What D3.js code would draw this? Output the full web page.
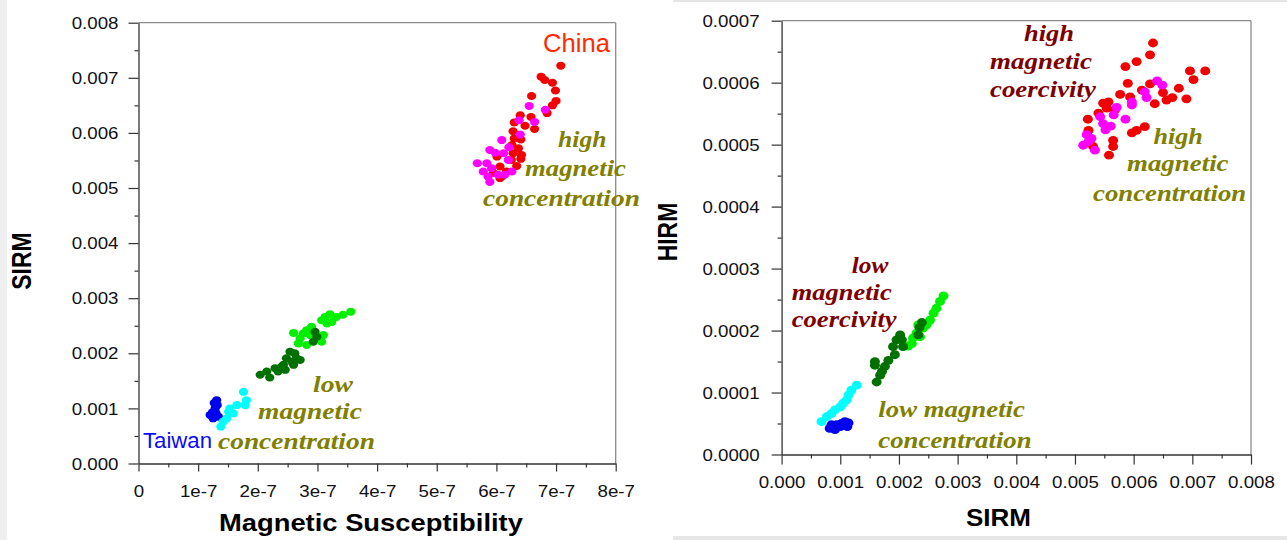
<!DOCTYPE html>
<html><head><meta charset="utf-8">
<script src="https://cdn.jsdelivr.net/npm/d3@7"></script>
<style>html,body{margin:0;padding:0;background:#fff;}svg{display:block;}</style>
</head><body>
<svg id="chart" width="1287" height="540"></svg>
<script>
// ---------- Left panel: Magnetic Susceptibility vs SIRM ----------
const susTicks = [0, 1e-7, 2e-7, 3e-7, 4e-7, 5e-7, 6e-7, 7e-7, 8e-7];
const susTickLabels = ["0", "1e-7", "2e-7", "3e-7", "4e-7", "5e-7", "6e-7", "7e-7", "8e-7"];
const sirmTicksA = [0, 0.001, 0.002, 0.003, 0.004, 0.005, 0.006, 0.007, 0.008];
const sirmTickLabelsA = ["0.000", "0.001", "0.002", "0.003", "0.004", "0.005", "0.006", "0.007", "0.008"];

const susRed = [7.08e-7,6.75e-7,6.81e-7,6.94e-7,6.99e-7,7.00e-7,6.94e-7,6.59e-7,6.85e-7,6.40e-7,6.58e-7,6.48e-7,6.64e-7,6.28e-7,6.41e-7,6.30e-7,6.26e-7,6.37e-7,6.42e-7,6.41e-7,6.28e-7,6.25e-7,6.34e-7,6.01e-7,6.06e-7,6.17e-7,6.09e-7,5.95e-7,6.06e-7,6.30e-7];
const sirmRedA = [0.00722,0.00702,0.00696,0.00691,0.00677,0.00658,0.00650,0.00667,0.00636,0.00632,0.00629,0.00613,0.00607,0.00603,0.00588,0.00590,0.00578,0.00572,0.00560,0.00553,0.00563,0.00551,0.00540,0.00557,0.00539,0.00530,0.00521,0.00527,0.00518,0.00619];
const susMagenta = [6.55e-7,6.82e-7,6.38e-7,6.64e-7,6.40e-7,6.09e-7,6.21e-7,5.89e-7,5.98e-7,6.12e-7,5.68e-7,5.84e-7,5.92e-7,5.78e-7,5.86e-7,6.03e-7,5.89e-7,6.14e-7,6.26e-7,6.20e-7];
const sirmMagentaA = [0.00649,0.00642,0.00623,0.00620,0.00597,0.00587,0.00574,0.00569,0.00564,0.00563,0.00545,0.00545,0.00536,0.00530,0.00521,0.00524,0.00511,0.00524,0.00530,0.00551];
const susLightGreen = [3.56e-7,3.43e-7,3.32e-7,3.21e-7,3.13e-7,3.07e-7,3.16e-7,3.24e-7,2.90e-7,2.82e-7,2.76e-7,2.60e-7,2.71e-7,2.88e-7,3.10e-7,3.07e-7,2.82e-7,2.68e-7,2.90e-7];
const sirmLightGreenA = [0.002755,0.00270,0.00266,0.00271,0.00266,0.00260,0.00254,0.00257,0.00248,0.00242,0.00236,0.00237,0.00227,0.00233,0.00233,0.00221,0.00215,0.00218,0.00245];
const susDarkGreen = [2.96e-7,2.93e-7,2.99e-7,2.04e-7,2.15e-7,2.20e-7,2.29e-7,2.34e-7,2.43e-7,2.48e-7,2.54e-7,2.62e-7,2.57e-7,2.65e-7,2.71e-7,2.60e-7,2.46e-7,2.40e-7];
const sirmDarkGreenA = [0.00239,0.00221,0.00230,0.00161,0.00167,0.00156,0.00173,0.00167,0.00179,0.00191,0.00203,0.00200,0.00185,0.00191,0.00188,0.00179,0.00170,0.00176];
const susCyan = [1.76e-7,1.81e-7,1.79e-7,1.65e-7,1.53e-7,1.59e-7,1.48e-7,1.42e-7,1.38e-7,1.51e-7];
const sirmCyanA = [0.00130,0.00115,0.00106,0.00106,0.00100,0.00091,0.00082,0.00076,0.00067,0.00094];
const susBlue = [1.31e-7,1.32e-7,1.28e-7,1.20e-7,1.25e-7,1.34e-7,1.30e-7,1.27e-7,1.24e-7,1.29e-7];
const sirmBlueA = [0.00115,0.00106,0.00097,0.00088,0.00082,0.00085,0.00091,0.00110,0.00093,0.00102];

// ---------- Right panel: SIRM vs HIRM ----------
const sirmTicksB = [0, 0.001, 0.002, 0.003, 0.004, 0.005, 0.006, 0.007, 0.008];
const sirmTickLabelsB = ["0.000", "0.001", "0.002", "0.003", "0.004", "0.005", "0.006", "0.007", "0.008"];
const hirmTicks = [0, 0.0001, 0.0002, 0.0003, 0.0004, 0.0005, 0.0006, 0.0007];
const hirmTickLabels = ["0.0000", "0.0001", "0.0002", "0.0003", "0.0004", "0.0005", "0.0006", "0.0007"];

const sirmRedB = [0.00633,0.00628,0.00605,0.00586,0.00696,0.00722,0.00702,0.00590,0.00628,0.00614,0.00677,0.00650,0.00666,0.00656,0.00690,0.00577,0.00594,0.00636,0.00557,0.00548,0.00554,0.00540,0.00522,0.00523,0.00619,0.00605,0.00597,0.00565,0.00565,0.00558,0.00531,0.00568];
const hirmRed = [0.000664,0.000645,0.000634,0.000626,0.000619,0.000619,0.000605,0.000599,0.000598,0.000588,0.000591,0.000584,0.000576,0.000572,0.000574,0.000581,0.000577,0.000566,0.000569,0.000567,0.000559,0.000551,0.000541,0.000523,0.000529,0.000523,0.000519,0.000507,0.000497,0.000483,0.000497,0.000556];
const sirmMagentaB = [0.00640,0.00649,0.00619,0.00622,0.00597,0.00597,0.00571,0.00566,0.00586,0.00543,0.00548,0.00561,0.00552,0.00520,0.00528,0.00514,0.00534,0.00523];
const hirmMagenta = [0.000603,0.000596,0.000585,0.000576,0.000569,0.000564,0.000560,0.000548,0.000541,0.000545,0.000534,0.000530,0.000524,0.000516,0.000510,0.000499,0.000491,0.000505];
const sirmLightGreenB = [0.00276,0.00270,0.00264,0.00259,0.00253,0.00247,0.00241,0.00233,0.00230,0.00224,0.00222,0.00216,0.00236];
const hirmLightGreen = [0.000256,0.000247,0.000236,0.000228,0.000217,0.000209,0.000204,0.000209,0.000196,0.000188,0.000179,0.000175,0.000190];
const sirmDarkGreenB = [0.00239,0.00235,0.00233,0.00202,0.00205,0.00196,0.00207,0.00190,0.00193,0.00182,0.00176,0.00171,0.00162,0.00159,0.00159,0.00168];
const hirmDarkGreen = [0.000213,0.000205,0.000193,0.000193,0.000185,0.000185,0.000174,0.000174,0.000161,0.000152,0.000142,0.000134,0.000117,0.000150,0.000144,0.000128];
const sirmCyanB = [0.00128,0.00119,0.00114,0.00111,0.00105,0.00100,0.00091,0.00085,0.00077,0.00068];
const hirmCyan = [0.000112,0.000104,0.000096,0.000088,0.000083,0.000077,0.000072,0.000066,0.000061,0.000053];
const sirmBlueB = [0.00082,0.00091,0.00100,0.00108,0.00114,0.00112,0.00102,0.00085,0.00094];
const hirmBlue = [0.000042,0.000040,0.000045,0.000053,0.000051,0.000045,0.000050,0.000048,0.000048];

// ---------- drawing ----------
const svg = d3.select("#chart");
const SANS = "'Liberation Sans', Arial, sans-serif";
const SERIF = "'Liberation Serif', 'Times New Roman', serif";

// page background strips
svg.append("rect").attr("x",0).attr("y",0).attr("width",7).attr("height",540).attr("fill","#efefef");
svg.append("rect").attr("x",673).attr("y",0).attr("width",614).attr("height",2).attr("fill","#e6e6e6");
svg.append("rect").attr("x",673).attr("y",536).attr("width",614).attr("height",4).attr("fill","#e6e6e6");

function label(g, str, x, y, o) {
  const t = g.append("text").text(str)
    .attr("font-family", o.family || SANS)
    .attr("font-size", o.size)
    .attr("font-weight", o.weight || "normal")
    .attr("font-style", o.style || "normal")
    .attr("fill", o.color || "#000")
    .attr("text-anchor", o.anchor || "start");
  const len = t.node().getComputedTextLength();
  const s = o.width ? o.width / len : 1;
  if (o.rotate) t.attr("transform", `translate(${x},${y}) rotate(-90) scale(1,${o.sy || 1.2})`);
  else t.attr("transform", `translate(${x},${y}) scale(${s},1)`);
  return t;
}

function panel(cfg) {
  const g = svg.append("g");
  const x = d3.scaleLinear().domain(cfg.xDomain).range(cfg.xRange);
  const y = d3.scaleLinear().domain(cfg.yDomain).range(cfg.yRange);

  // frame (top/right)
  g.append("line").attr("x1", x.range()[0]).attr("x2", x.range()[1]).attr("y1", y.range()[1]).attr("y2", y.range()[1]).attr("stroke", "#8a8a8a").attr("stroke-width", 1.3);
  g.append("line").attr("x1", x.range()[1]).attr("x2", x.range()[1]).attr("y1", y.range()[0]).attr("y2", y.range()[1]).attr("stroke", "#8a8a8a").attr("stroke-width", 1.3);

  // minor ticks
  const xMinor = d3.range(0, cfg.xTicks.length - 1).map(i => (cfg.xTicks[i] + cfg.xTicks[i + 1]) / 2);
  const yMinor = d3.range(0, cfg.yTicks.length - 1).map(i => (cfg.yTicks[i] + cfg.yTicks[i + 1]) / 2);
  const gxm = g.append("g").attr("transform", `translate(0,${y.range()[0]})`).call(d3.axisBottom(x).tickValues(xMinor).tickSize(4).tickFormat(""));
  const gym = g.append("g").attr("transform", `translate(${x.range()[0]},0)`).call(d3.axisLeft(y).tickValues(yMinor).tickSize(4).tickFormat(""));
  [gxm, gym].forEach(a => { a.select(".domain").remove(); a.selectAll("line").attr("stroke", "#333").attr("stroke-width", 1.2); });

  // major axes
  const gx = g.append("g").attr("transform", `translate(0,${y.range()[0]})`)
    .call(d3.axisBottom(x).tickValues(cfg.xTicks).tickSize(cfg.xTickSize).tickSizeOuter(0).tickFormat((d, i) => cfg.xLabels[i]));
  const gy = g.append("g").attr("transform", `translate(${x.range()[0]},0)`)
    .call(d3.axisLeft(y).tickValues(cfg.yTicks).tickSize(10).tickSizeOuter(0).tickFormat((d, i) => cfg.yLabels[i]));
  [gx, gy].forEach(a => {
    a.select(".domain").attr("stroke", "#333").attr("stroke-width", 1.3);
    a.selectAll(".tick line").attr("stroke", "#333").attr("stroke-width", 1.2);
    a.selectAll("text").attr("font-family", SANS).attr("font-size", 15.6).attr("fill", "#111");
  });
  gx.selectAll(".tick text").each(function () {
    d3.select(this).attr("y", null).attr("dy", null)
      .attr("transform", `translate(0,${cfg.xLabelBase}) scale(1.2,1)`);
  });
  gy.selectAll(".tick text").each(function () {
    d3.select(this).attr("x", null).attr("dy", "0.36em")
      .attr("transform", `translate(${-cfg.yLabelGap},0) scale(1.2,1)`);
  });

  // points
  cfg.series.forEach(s => {
    g.append("g").selectAll("ellipse").data(d3.range(s.x.length)).join("ellipse")
      .attr("cx", i => x(s.x[i])).attr("cy", i => y(s.y[i]))
      .attr("rx", cfg.rx).attr("ry", cfg.ry).attr("fill", s.color);
  });
  return g;
}

const gL = panel({
  xDomain: [0, 8e-7], xRange: [138.5, 615.7],
  yDomain: [0, 0.008], yRange: [463.5, 22.7],
  xTicks: susTicks, xLabels: susTickLabels, yTicks: sirmTicksA, yLabels: sirmTickLabelsA,
  xTickSize: 8, xLabelBase: 33.5, yLabelGap: 20, rx: 4.6, ry: 4.0,
  series: [
    { x: susLightGreen, y: sirmLightGreenA, color: "#00f000" },
    { x: susDarkGreen, y: sirmDarkGreenA, color: "#007000" },
    { x: susBlue, y: sirmBlueA, color: "#0000f0" },
    { x: susCyan, y: sirmCyanA, color: "#00ffff" },
    { x: susRed, y: sirmRedA, color: "#f00000" },
    { x: susMagenta, y: sirmMagentaA, color: "#ff00ff" }
  ]
});

const gR = panel({
  xDomain: [0, 0.008], xRange: [781.6, 1251],
  yDomain: [0, 0.0007], yRange: [454.5, 20.7],
  xTicks: sirmTicksB, xLabels: sirmTickLabelsB, yTicks: hirmTicks, yLabels: hirmTickLabels,
  xTickSize: 10, xLabelBase: 33.5, yLabelGap: 22, rx: 5, ry: 4.4,
  series: [
    { x: sirmLightGreenB, y: hirmLightGreen, color: "#00f000" },
    { x: sirmDarkGreenB, y: hirmDarkGreen, color: "#007000" },
    { x: sirmBlueB, y: hirmBlue, color: "#0000f0" },
    { x: sirmCyanB, y: hirmCyan, color: "#00ffff" },
    { x: sirmRedB, y: hirmRed, color: "#f00000" },
    { x: sirmMagentaB, y: hirmMagenta, color: "#ff00ff" }
  ]
});

// axis titles
label(svg, "SIRM", 31, 261, { size: 23, weight: "bold", anchor: "middle", rotate: true });
label(svg, "Magnetic Susceptibility", 219, 531, { size: 23, weight: "bold", width: 304 });
label(svg, "HIRM", 677, 232, { size: 23, weight: "bold", anchor: "middle", rotate: true });
label(svg, "SIRM", 966, 526, { size: 23, weight: "bold", width: 65 });

// annotations
const OLIVE = "#808000", DRED = "#7d0000";
const ann = { family: SERIF, size: 23, weight: "bold", style: "italic" };
label(svg, "China", 543, 51.5, { size: 25.5, color: "#ff2a00", width: 67 });
label(svg, "Taiwan", 143, 448, { size: 22, color: "#0a0aff", width: 69 });

label(svg, "high", 558, 147, Object.assign({}, ann, { color: OLIVE, width: 48.5 }));
label(svg, "magnetic", 525, 175.5, Object.assign({}, ann, { color: OLIVE, width: 101 }));
label(svg, "concentration", 483, 206, Object.assign({}, ann, { color: OLIVE, width: 157 }));

label(svg, "low", 313, 391.5, Object.assign({}, ann, { color: OLIVE, width: 40 }));
label(svg, "magnetic", 258, 419, Object.assign({}, ann, { color: OLIVE, width: 104 }));
label(svg, "concentration", 218, 449, Object.assign({}, ann, { color: OLIVE, width: 157 }));

label(svg, "high", 1024, 41, Object.assign({}, ann, { color: DRED, width: 50 }));
label(svg, "magnetic", 990, 69, Object.assign({}, ann, { color: DRED, width: 102 }));
label(svg, "coercivity", 990, 97, Object.assign({}, ann, { color: DRED, width: 106 }));

label(svg, "high", 1153.5, 143.5, Object.assign({}, ann, { color: OLIVE, width: 49.4 }));
label(svg, "magnetic", 1127, 171, Object.assign({}, ann, { color: OLIVE, width: 101.6 }));
label(svg, "concentration", 1093, 201, Object.assign({}, ann, { color: OLIVE, width: 153.3 }));

label(svg, "low", 851.7, 273, Object.assign({}, ann, { color: DRED, width: 36.6 }));
label(svg, "magnetic", 791.7, 300, Object.assign({}, ann, { color: DRED, width: 100 }));
label(svg, "coercivity", 791.7, 327, Object.assign({}, ann, { color: DRED, width: 105 }));

label(svg, "low magnetic", 878.3, 417, Object.assign({}, ann, { color: OLIVE, width: 146.7 }));
label(svg, "concentration", 878.3, 448, Object.assign({}, ann, { color: OLIVE, width: 153.4 }));
</script>
</body></html>
